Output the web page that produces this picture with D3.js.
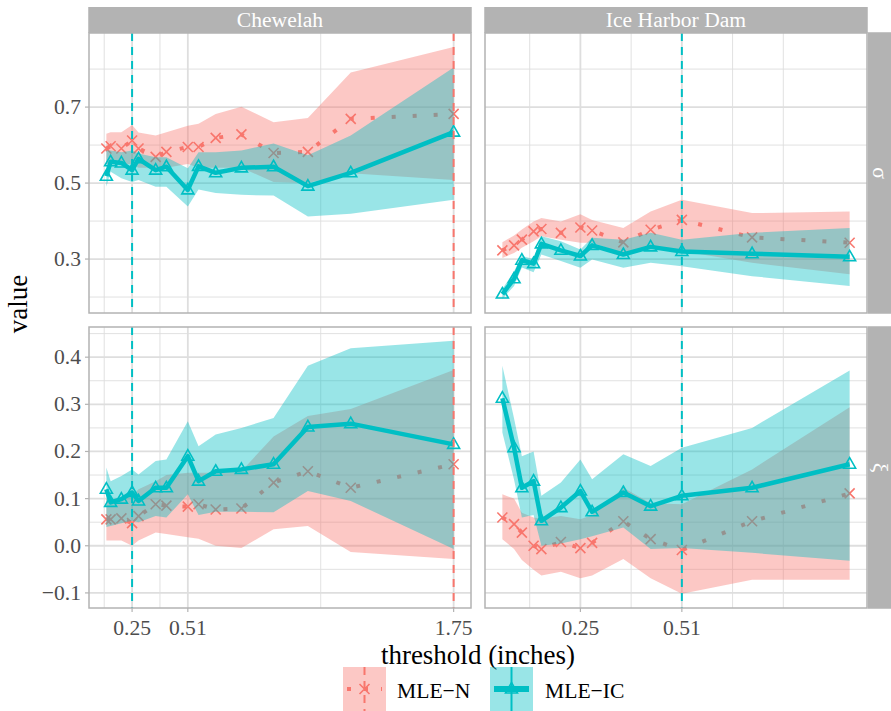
<!DOCTYPE html>
<html>
<head>
<meta charset="UTF-8" />
<style>
  body { margin: 0; padding: 0; background: #fff; }
  svg { font-family: "Liberation Serif", "Times New Roman", serif; }
</style>
<script src="https://d3js.org/d3.v7.min.js"></script>
</head>
<body>
<svg width="891" height="711"></svg>
<script>
const sites = ["Chewelah", "Ice Harbor Dam"];
const params = ["σ", "ξ"];
const methods = ["MLE−N", "MLE−IC"];
const colors = ["#F8766D", "#00BFC4"];

// thresholds (inches)
const chewX = [0.13, 0.15, 0.20, 0.25, 0.28, 0.36, 0.41, 0.51, 0.56, 0.64, 0.76, 0.91, 1.07, 1.27, 1.75];
const iceX = [0.05, 0.08, 0.10, 0.13, 0.15, 0.20, 0.25, 0.28, 0.36, 0.43, 0.51, 0.69, 0.94];

// Chewelah, sigma
const chewSigmaN    = [0.591, 0.597, 0.591, 0.612, 0.591, 0.569, 0.582, 0.595, 0.595, 0.619, 0.628, 0.579, 0.582, 0.669, 0.682];
const chewSigmaNLo  = [0.550, 0.550, 0.550, 0.550, 0.540, 0.540, 0.540, 0.550, 0.540, 0.540, 0.540, 0.503, 0.500, 0.526, 0.508];
const chewSigmaNHi  = [0.630, 0.634, 0.634, 0.653, 0.633, 0.625, 0.634, 0.651, 0.656, 0.682, 0.701, 0.660, 0.671, 0.791, 0.858];
const chewSigmaIC   = [0.518, 0.556, 0.553, 0.534, 0.564, 0.534, 0.543, 0.482, 0.544, 0.527, 0.540, 0.543, 0.492, 0.527, 0.634];
const chewSigmaICLo = [0.490, 0.530, 0.513, 0.503, 0.508, 0.490, 0.490, 0.438, 0.483, 0.474, 0.469, 0.467, 0.412, 0.419, 0.456];
const chewSigmaICHi = [0.586, 0.586, 0.581, 0.586, 0.578, 0.568, 0.568, 0.539, 0.581, 0.581, 0.586, 0.604, 0.573, 0.625, 0.804];

// Chewelah, xi
const chewXiN    = [0.056, 0.056, 0.058, 0.048, 0.063, 0.088, 0.085, 0.083, 0.088, 0.077, 0.079, 0.134, 0.158, 0.123, 0.173];
const chewXiNLo  = [0.011, 0.011, 0.011, 0.000, 0.011, 0.028, 0.025, 0.018, 0.015, 0.000, -0.005, 0.035, 0.042, -0.013, -0.028];
const chewXiNHi  = [0.099, 0.099, 0.099, 0.105, 0.120, 0.137, 0.150, 0.155, 0.155, 0.155, 0.158, 0.232, 0.275, 0.290, 0.373];
const chewXiIC   = [0.120, 0.092, 0.099, 0.113, 0.095, 0.123, 0.123, 0.190, 0.137, 0.158, 0.162, 0.173, 0.252, 0.259, 0.215];
const chewXiICLo = [0.040, 0.042, 0.048, 0.053, 0.050, 0.063, 0.060, 0.109, 0.065, 0.072, 0.072, 0.071, 0.116, 0.095, -0.007];
const chewXiICHi = [0.166, 0.137, 0.148, 0.162, 0.151, 0.180, 0.183, 0.264, 0.211, 0.236, 0.250, 0.271, 0.382, 0.419, 0.435];

// Ice Harbor Dam, sigma
const iceSigmaN    = [0.323, 0.336, 0.351, 0.373, 0.379, 0.369, 0.383, 0.375, 0.344, 0.377, 0.403, 0.357, 0.343];
const iceSigmaNLo  = [0.303, 0.316, 0.330, 0.347, 0.360, 0.351, 0.343, 0.343, 0.316, 0.330, 0.321, 0.290, 0.260];
const iceSigmaNHi  = [0.344, 0.362, 0.378, 0.399, 0.408, 0.399, 0.418, 0.403, 0.382, 0.425, 0.456, 0.421, 0.425];
const iceSigmaIC   = [0.208, 0.248, 0.297, 0.288, 0.340, 0.323, 0.308, 0.336, 0.312, 0.332, 0.320, 0.314, 0.306];
const iceSigmaICLo = [0.195, 0.229, 0.278, 0.265, 0.312, 0.295, 0.277, 0.299, 0.277, 0.290, 0.281, 0.255, 0.229];
const iceSigmaICHi = [0.221, 0.268, 0.308, 0.300, 0.360, 0.347, 0.325, 0.356, 0.351, 0.369, 0.351, 0.369, 0.382];

// Ice Harbor Dam, xi
const iceXiN    = [0.060, 0.046, 0.028, 0.000, -0.007, 0.008, -0.005, 0.006, 0.052, 0.014, -0.009, 0.052, 0.111];
const iceXiNLo  = [0.014, -0.007, -0.030, -0.051, -0.063, -0.055, -0.069, -0.063, -0.028, -0.069, -0.102, -0.072, -0.072];
const iceXiNHi  = [0.109, 0.100, 0.070, 0.060, 0.058, 0.063, 0.056, 0.065, 0.123, 0.090, 0.088, 0.162, 0.294];
const iceXiIC   = [0.313, 0.208, 0.123, 0.137, 0.053, 0.081, 0.116, 0.072, 0.113, 0.084, 0.106, 0.123, 0.173];
const iceXiICLo = [0.240, 0.140, 0.060, 0.065, 0.000, 0.005, 0.014, 0.020, 0.039, -0.007, -0.005, -0.015, -0.032];
const iceXiICHi = [0.382, 0.270, 0.190, 0.200, 0.106, 0.134, 0.183, 0.141, 0.194, 0.169, 0.208, 0.250, 0.372];

// chosen thresholds (dashed lines), per site: [MLE-N, MLE-IC]
const chewCuts = [1.75, 0.25];
const iceCuts = [null, 0.51];

// axis breaks
const xBreaks = [[0.25, 0.51, 1.75], [0.25, 0.51]];
const xMinor = [[0.12, 0.38, 1.13], [0.12, 0.38, 0.64, 0.77]];
const yBreaks = [[0.3, 0.5, 0.7], [-0.1, 0.0, 0.1, 0.2, 0.3, 0.4]];
const yMinor = [[0.2, 0.4, 0.6, 0.8], [-0.05, 0.05, 0.15, 0.25, 0.35, 0.45]];
const yDomains = [[0.158, 0.895], [-0.132, 0.464]];

// ---- layout ----
const svg = d3.select("svg");
const colX = [[89, 471], [485, 867]];
const rowY = [[33, 313], [327, 608]];
const stripH = 26;
const gridCol = "#dedede", frameCol = "#b3b3b3";
const fmt = v => (v < 0 ? "−" : "") + Math.abs(v).toFixed(1);

function series(est, lo, hi) { return { est, lo, hi }; }
const panels = [
  [ { x: chewX, s: [series(chewSigmaN, chewSigmaNLo, chewSigmaNHi), series(chewSigmaIC, chewSigmaICLo, chewSigmaICHi)], cuts: chewCuts },
    { x: iceX,  s: [series(iceSigmaN, iceSigmaNLo, iceSigmaNHi), series(iceSigmaIC, iceSigmaICLo, iceSigmaICHi)], cuts: iceCuts } ],
  [ { x: chewX, s: [series(chewXiN, chewXiNLo, chewXiNHi), series(chewXiIC, chewXiICLo, chewXiICHi)], cuts: chewCuts },
    { x: iceX,  s: [series(iceXiN, iceXiNLo, iceXiNHi), series(iceXiIC, iceXiICLo, iceXiICHi)], cuts: iceCuts } ]
];

const xScales = [chewX, iceX].map((xs, c) => {
  const [lo, hi] = d3.extent(xs), pad = (hi - lo) * 0.05;
  return d3.scaleLinear().domain([lo - pad, hi + pad]).range(colX[c]);
});
const yScales = yDomains.map((d, r) => d3.scaleLinear().domain(d).range([rowY[r][1], rowY[r][0]]));

const crossPath = "M-5,-5L5,5M-5,5L5,-5";
const triPath = "M0,-6.5L6,4L-6,4Z";

panels.forEach((row, r) => row.forEach((p, c) => {
  const x = xScales[c], y = yScales[r];
  const [x0, x1] = colX[c], [y0, y1] = rowY[r];
  const g = svg.append("g");
  const clipId = `clip-${r}-${c}`;
  svg.append("clipPath").attr("id", clipId)
    .append("rect").attr("x", x0).attr("y", y0).attr("width", x1 - x0).attr("height", y1 - y0);

  // grid
  g.selectAll(".ymin").data(yMinor[r]).join("line")
    .attr("x1", x0).attr("x2", x1).attr("y1", d => y(d)).attr("y2", d => y(d))
    .attr("stroke", gridCol).attr("stroke-width", 0.9);
  g.selectAll(".xmin").data(xMinor[c]).join("line")
    .attr("y1", y0).attr("y2", y1).attr("x1", d => x(d)).attr("x2", d => x(d))
    .attr("stroke", gridCol).attr("stroke-width", 0.9);
  g.selectAll(".ymaj").data(yBreaks[r]).join("line")
    .attr("x1", x0).attr("x2", x1).attr("y1", d => y(d)).attr("y2", d => y(d))
    .attr("stroke", gridCol).attr("stroke-width", 1.8);
  g.selectAll(".xmaj").data(xBreaks[c]).join("line")
    .attr("y1", y0).attr("y2", y1).attr("x1", d => x(d)).attr("x2", d => x(d))
    .attr("stroke", gridCol).attr("stroke-width", 1.8);

  const inner = g.append("g").attr("clip-path", `url(#${clipId})`);
  p.s.forEach((s, m) => {
    const idx = d3.range(p.x.length);
    inner.append("path").datum(idx)
      .attr("d", d3.area().x(i => x(p.x[i])).y0(i => y(s.lo[i])).y1(i => y(s.hi[i])))
      .attr("fill", colors[m]).attr("fill-opacity", 0.4);
    inner.append("path").datum(idx)
      .attr("d", d3.line().x(i => x(p.x[i])).y(i => y(s.est[i])))
      .attr("fill", "none").attr("stroke", colors[m])
      .attr("stroke-width", m === 0 ? 4 : 4.5)
      .attr("stroke-linejoin", "round")
      .attr("stroke-dasharray", m === 0 ? "4,17" : null);
    inner.selectAll(null).data(idx).join("path")
      .attr("transform", i => `translate(${x(p.x[i])},${y(s.est[i])})`)
      .attr("d", m === 0 ? crossPath : triPath)
      .attr("fill", "none").attr("stroke", colors[m]).attr("stroke-width", 1.6);
  });
  p.cuts.forEach((v, m) => {
    if (v == null) return;
    inner.append("line").attr("x1", x(v)).attr("x2", x(v)).attr("y1", y0).attr("y2", y1)
      .attr("stroke", colors[m]).attr("stroke-width", 2).attr("stroke-dasharray", "8,6");
  });

  g.append("rect").attr("x", x0).attr("y", y0).attr("width", x1 - x0).attr("height", y1 - y0)
    .attr("fill", "none").attr("stroke", frameCol).attr("stroke-width", 1.5);

  // y axis on first column
  if (c === 0) {
    g.selectAll(".yt").data(yBreaks[r]).join("line")
      .attr("x1", x0 - 4).attr("x2", x0).attr("y1", d => y(d)).attr("y2", d => y(d))
      .attr("stroke", frameCol).attr("stroke-width", 1.2);
    g.selectAll(".yl").data(yBreaks[r]).join("text")
      .attr("x", x0 - 8).attr("y", d => y(d) + 7).attr("text-anchor", "end")
      .attr("font-size", 21.6).attr("fill", "#4d4d4d").text(fmt);
  }
  // x axis on bottom row
  if (r === 1) {
    g.selectAll(".xt").data(xBreaks[c]).join("line")
      .attr("x1", d => x(d)).attr("x2", d => x(d)).attr("y1", y1).attr("y2", y1 + 4)
      .attr("stroke", frameCol).attr("stroke-width", 1.2);
    g.selectAll(".xl").data(xBreaks[c]).join("text")
      .attr("x", d => x(d)).attr("y", y1 + 27).attr("text-anchor", "middle")
      .attr("font-size", 21.6).attr("fill", "#4d4d4d").text(d => d.toFixed(2));
  }
}));

// strips
sites.forEach((s, c) => {
  svg.append("rect").attr("x", colX[c][0] - 0.75).attr("y", rowY[0][0] - stripH)
    .attr("width", colX[c][1] - colX[c][0] + 1.5).attr("height", stripH).attr("fill", frameCol);
  svg.append("text").attr("x", (colX[c][0] + colX[c][1]) / 2).attr("y", rowY[0][0] - 6)
    .attr("text-anchor", "middle").attr("font-size", 21.6).attr("fill", "#fff").text(s);
});
params.forEach((s, r) => {
  const xs = colX[1][1] + 0.75;
  svg.append("rect").attr("x", xs).attr("y", rowY[r][0] - 0.75)
    .attr("width", stripH).attr("height", rowY[r][1] - rowY[r][0] + 1.5).attr("fill", frameCol);
  const cy = (rowY[r][0] + rowY[r][1]) / 2;
  svg.append("text").attr("transform", `translate(${xs + 12},${cy}) rotate(90)`)
    .attr("text-anchor", "middle").attr("dy", "0.3em")
    .attr("font-size", 21.6).attr("fill", "#fff").text(s);
});

// axis titles
svg.append("text").attr("x", (colX[0][0] + colX[1][1]) / 2).attr("y", 664)
  .attr("text-anchor", "middle").attr("font-size", 27).text("threshold (inches)");
svg.append("text").attr("transform", "translate(27,304) rotate(-90)")
  .attr("text-anchor", "middle").attr("font-size", 27).text("value");

// legend
const legX = [343, 490], legLabelX = [397, 545];
methods.forEach((mName, m) => {
  const lg = svg.append("g").attr("transform", `translate(${legX[m]},667)`);
  const kw = 43, kh = 44, cx = kw / 2, cy = kh / 2;
  lg.append("rect").attr("width", kw).attr("height", kh).attr("fill", colors[m]).attr("fill-opacity", 0.4);
  lg.append("line").attr("x1", cx).attr("x2", cx).attr("y1", 0).attr("y2", kh)
    .attr("stroke", colors[m]).attr("stroke-width", 2).attr("stroke-dasharray", m === 0 ? "8,6" : null);
  lg.append("line").attr("x1", 4).attr("x2", kw - 4).attr("y1", cy).attr("y2", cy)
    .attr("stroke", colors[m]).attr("stroke-width", m === 0 ? 4 : 6)
    .attr("stroke-dasharray", m === 0 ? "4,13" : null);
  lg.append("path").attr("transform", `translate(${cx},${cy})`)
    .attr("d", m === 0 ? crossPath : triPath)
    .attr("fill", "none").attr("stroke", colors[m]).attr("stroke-width", 1.6);
  svg.append("text").attr("x", legLabelX[m]).attr("y", 698).attr("font-size", 21.6).text(mName);
});
</script>
</body>
</html>
